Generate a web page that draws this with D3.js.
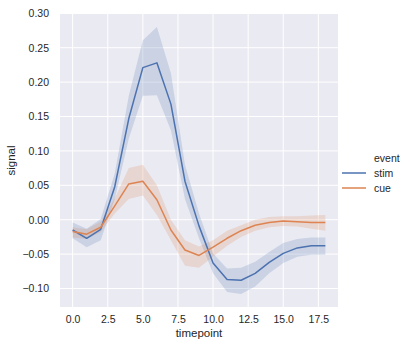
<!DOCTYPE html>
<html><head><meta charset="utf-8">
<script src="https://cdn.jsdelivr.net/npm/d3@7"></script>
<style>body{margin:0;background:#fff}svg{display:block}text{font-family:"Liberation Sans",Arial,sans-serif;fill:#262626}</style>
</head><body><svg id="c" width="410" height="348"></svg>
<script>
const timepoints = [0,1,2,3,4,5,6,7,8,9,10,11,12,13,14,15,16,17,18];
const stimMean = [-0.015,-0.027,-0.014,0.048,0.147,0.221,0.228,0.168,0.056,-0.009,-0.063,-0.087,-0.088,-0.078,-0.062,-0.049,-0.041,-0.038,-0.038];
const stimLow  = [-0.027,-0.040,-0.030,0.030,0.118,0.180,0.181,0.130,0.030,-0.027,-0.078,-0.105,-0.108,-0.097,-0.078,-0.063,-0.054,-0.051,-0.051];
const stimHigh = [-0.004,-0.013,0.001,0.067,0.180,0.261,0.280,0.213,0.080,0.009,-0.049,-0.071,-0.070,-0.061,-0.047,-0.034,-0.028,-0.026,-0.026];
const cueMean = [-0.017,-0.021,-0.011,0.020,0.052,0.056,0.029,-0.015,-0.044,-0.052,-0.040,-0.027,-0.016,-0.008,-0.004,-0.002,-0.003,-0.004,-0.004];
const cueLow  = [-0.026,-0.028,-0.018,0.009,0.030,0.035,0.007,-0.030,-0.067,-0.070,-0.054,-0.038,-0.025,-0.016,-0.011,-0.009,-0.010,-0.013,-0.016];
const cueHigh = [-0.011,-0.014,-0.003,0.031,0.075,0.080,0.050,0.000,-0.030,-0.039,-0.030,-0.016,-0.008,0.000,0.004,0.005,0.005,0.006,0.007];
const eventNames = ["stim","cue"];
const xTicks = [0,2.5,5,7.5,10,12.5,15,17.5];
const yTicks = [-0.10,-0.05,0,0.05,0.10,0.15,0.20,0.25,0.30];

const colors = {stim:"#4c72b0", cue:"#dd8452"};
const series = [
  {name:"stim", mean:stimMean, low:stimLow, high:stimHigh},
  {name:"cue", mean:cueMean, low:cueLow, high:cueHigh}
];
const L=60, R=338, T=14, B=307;
const x = d3.scaleLinear().domain([-0.9,18.9]).range([L,R]);
const y = d3.scaleLinear().domain([-0.1269,0.299]).range([B,T]);
const svg = d3.select("#c");
svg.append("rect").attr("x",L).attr("y",T).attr("width",R-L).attr("height",B-T).attr("fill","#eaeaf2");
const g = svg.append("g");
g.selectAll(".gx").data(xTicks).enter().append("line")
 .attr("x1",d=>x(d)).attr("x2",d=>x(d)).attr("y1",T).attr("y2",B).attr("stroke","#fff").attr("stroke-width",1);
g.selectAll(".gy").data(yTicks.filter(d=>y(d)>=T-0.5)).enter().append("line")
 .attr("y1",d=>y(d)).attr("y2",d=>y(d)).attr("x1",L).attr("x2",R).attr("stroke","#fff").attr("stroke-width",1);

const fmtMinus = s => s.replace("-","\u2212");
const xAxis = d3.axisBottom(x).tickValues(xTicks).tickFormat(d=>fmtMinus(d3.format(".1f")(d))).tickSize(0).tickPadding(9);
const yAxis = d3.axisLeft(y).tickValues(yTicks).tickFormat(d=>fmtMinus(d3.format(".2f")(d))).tickSize(0).tickPadding(11);
const gx = svg.append("g").attr("transform",`translate(0,${B})`).call(xAxis);
const gy = svg.append("g").attr("transform",`translate(${L},0)`).call(yAxis);
[gx,gy].forEach(a=>{a.select(".domain").remove();a.selectAll("text").attr("font-size",10.5).attr("fill","#262626").attr("font-family","Liberation Sans, Arial, sans-serif");});

const area = d3.area().x((d,i)=>x(timepoints[i])).y0(d=>y(d[0])).y1(d=>y(d[1]));
const line = d3.line().x((d,i)=>x(timepoints[i])).y(d=>y(d));
series.forEach(s=>{
  svg.append("path").datum(s.low.map((v,i)=>[v,s.high[i]])).attr("d",area)
   .attr("fill",colors[s.name]).attr("fill-opacity",0.2).attr("stroke","none");
});
series.forEach(s=>{
  svg.append("path").datum(s.mean).attr("d",line).attr("fill","none")
   .attr("stroke",colors[s.name]).attr("stroke-width",1.5).attr("stroke-linejoin","round");
});

svg.append("text").attr("x",(L+R)/2).attr("y",337).attr("text-anchor","middle").attr("font-size",11.5).text("timepoint");
svg.append("text").attr("transform",`translate(15,${(T+B)/2}) rotate(-90)`).attr("text-anchor","middle").attr("font-size",11.5).text("signal");

const lg = svg.append("g");
lg.append("text").attr("x",374).attr("y",158).attr("dy","0.35em").attr("font-size",10.5).text("event");
eventNames.forEach((n,i)=>{
  const yy = 173 + i*15;
  lg.append("line").attr("x1",342).attr("x2",366).attr("y1",yy).attr("y2",yy).attr("stroke",colors[n]).attr("stroke-width",1.5);
  lg.append("text").attr("x",374).attr("y",yy).attr("dy","0.35em").attr("font-size",10.5).text(n);
});
</script></body></html>
